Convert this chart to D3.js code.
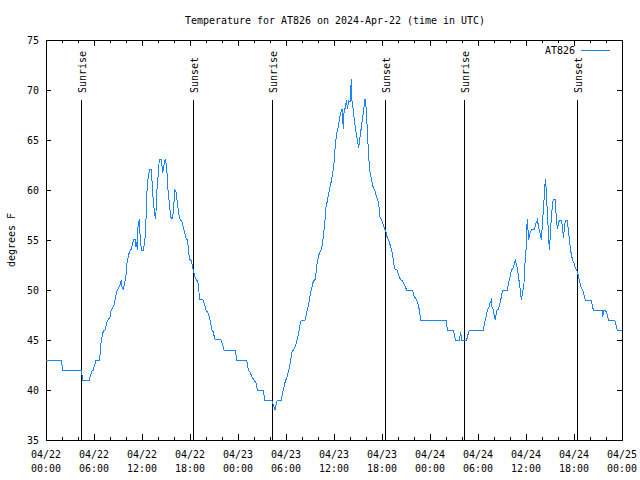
<!DOCTYPE html>
<html><head><meta charset="utf-8">
<script src="https://cdn.jsdelivr.net/npm/d3@7"></script>
<style>
body{margin:0;background:#fff}
svg{display:block}
text{font-family:"DejaVu Sans Mono",monospace;font-size:11px;fill:#000}
</style>
</head><body>
<svg id="c" width="640" height="480"></svg>
<script>
// ---- data ----
const title = "Temperature for AT826 on 2024-Apr-22 (time in UTC)";
const seriesName = "AT826";
const yLabel = "degrees F";
const startISO = "2024-04-22T00:00:00Z";
const endISO = "2024-04-25T00:00:00Z";
// hours since 2024-04-22 00:00 UTC
const hours = [
0,1.92,2.08,4.42,4.58,5.42,5.58,5.75,5.92,6.08,6.25,6.67,6.75,6.83,7.0,7.17,7.42,7.58,7.75,8.0,
8.08,8.33,8.5,8.67,8.83,9.0,9.25,9.42,9.5,9.67,9.83,10.0,10.08,10.25,10.42,10.67,10.83,11.0,11.17,11.25,
11.33,11.42,11.5,11.67,11.75,11.92,12.17,12.33,12.42,12.5,12.58,12.67,12.83,13.0,13.17,13.25,13.42,13.58,13.67,13.75,
13.83,14.0,14.17,14.42,14.58,14.75,14.92,15.08,15.25,15.42,15.58,15.75,15.92,16.0,16.08,16.25,16.42,16.58,16.75,17.0,
17.17,17.33,17.5,17.67,17.83,17.92,18.17,18.33,18.5,18.67,18.92,19.08,19.17,19.67,19.83,20.0,20.25,20.42,20.58,20.75,
20.92,21.08,21.92,22.08,22.25,23.67,23.83,
25.08,25.29,25.5,25.75,26.0,26.25,26.42,27.17,27.33,28.21,28.42,28.63,28.75,28.92,29.42,29.58,29.75,29.92,30.08,30.25,
30.42,30.58,30.75,31.0,31.17,31.33,31.5,31.67,31.83,32.42,32.58,32.75,32.92,33.08,33.25,33.42,33.67,33.75,33.83,34.0,
34.17,34.42,34.58,34.75,34.92,35.0,35.17,35.33,35.5,35.67,35.83,36.0,36.08,36.17,36.33,36.5,36.67,36.83,37.0,37.17,
37.25,37.42,37.58,37.67,37.83,38.0,38.17,38.25,38.42,38.58,38.75,38.92,39.08,39.25,39.42,39.58,39.75,39.88,40.0,40.17,
40.33,40.5,40.75,40.92,41.08,41.25,41.42,41.58,41.75,42.0,42.25,42.5,42.67,42.92,43.08,43.25,43.42,43.58,43.92,44.08,
44.33,44.58,44.83,45.08,45.83,46.0,46.33,46.5,46.67,46.83,
50.0,50.17,50.92,51.17,51.67,51.83,51.95,52.08,52.58,52.83,52.92,54.67,54.83,55.0,55.17,55.33,55.5,55.67,55.75,55.92,
56.08,56.17,56.33,56.58,56.75,56.92,57.08,57.67,57.83,58.0,58.17,58.33,58.5,58.67,58.83,59.0,59.17,59.33,59.42,59.58,
59.75,59.83,60.0,60.08,60.17,60.25,60.33,60.5,60.67,61.08,61.25,61.42,61.58,61.75,61.92,62.0,62.17,62.33,62.42,62.5,
62.67,62.83,62.92,63.0,63.17,63.33,63.42,63.67,63.75,63.92,64.08,64.17,64.42,64.58,64.67,64.83,64.92,65.17,65.33,65.5,
65.67,65.83,66.0,66.17,66.42,66.58,66.75,66.92,67.08,67.25,67.42,68.17,68.33,68.42,69.5,69.58,69.75,69.92,70.08,70.33,
71.08,71.25,71.42,72.0
];
const temps = [
43,43,42,42,41,41,41.5,41.9,42,42.5,43,43,43.5,44.5,45.3,45.9,46,46.7,47,47.3,
47.8,48.2,48.5,49.2,49.8,50.1,50.5,51,50.3,50.1,50.7,51.5,52.5,53.2,53.8,54.1,54.7,55.1,55,54.3,
54.8,54,56.3,57.1,55.6,54,54,54.7,55.6,57.1,59.1,60.6,61.6,62.1,62.1,60.9,58.7,57.7,57.1,57.8,
59.7,61.3,63.1,63.1,61.7,62.5,63.1,62.3,60,58.7,57.3,57.1,57.8,58.8,60,59.8,58.7,57.7,57.1,56.8,
56.3,55.7,55.2,55,54,53.1,52.9,52.3,51.7,51.2,50.9,50.5,49.1,49,48.5,48,47.7,47.3,46.7,46,
45.8,45.1,45,44.5,44,44,43,
43,42,41.8,41.3,41,40.7,40,40,39,39,38.5,38,38.5,39,39,39.7,40.3,40.9,41.2,41.7,
42.2,43,43.8,44.1,44.4,44.8,45.4,46.1,46.9,47,47.7,48.3,49,49.7,50.3,50.9,51.1,51.7,52.4,53.1,
53.7,54.1,54.7,56,57.3,58.3,58.9,59.6,60.3,60.9,61.6,62.7,63.6,64.6,65.6,66.2,67,67.7,68.1,66.1,
67.7,68.3,69,68.1,68.9,68.8,71.1,68.9,68,66.7,65.8,65,64.2,65.3,66.3,67.2,68.3,69.1,68.3,66,
63.3,61.8,60.8,60.2,60,59.5,59.1,58.7,57.3,56.9,56.3,55.8,55.2,54.8,54.3,53.8,53,52.1,52,51.5,
51,50.9,50.5,50,50,49.4,49,48.6,48,47,
47,46,46,45,45,45.8,45,45,45,45.8,46,46,46.7,47.3,48,48.2,48.7,49,48.3,48,
47.3,47,48,48.1,48.7,49.3,50,50,50.7,51.3,52,52.1,52.5,53,52.5,51.7,50.7,49.7,49,49.7,
50.7,52.2,54,56,57.1,56,55,55.7,56,56.1,56.7,57,56.3,55.7,55,56,58,60,61.1,60.3,
57.8,55.3,54,55,57.3,58.7,59.1,59.1,57.7,56.1,56.7,57,57,56.3,55.2,56.3,57,57,55.7,54.5,
53.5,53,52.7,52.2,51.8,51.3,50.7,50.2,50,49.5,49,49,48.3,48,48,47.3,48,48,47.7,47,
47,46.5,46,46
];
const sunTimes = ["2024-04-22T04:22:00Z","2024-04-22T18:22:00Z","2024-04-23T04:15:00Z",
                  "2024-04-23T18:22:00Z","2024-04-24T04:15:00Z","2024-04-24T18:22:00Z"];
const sunLabels = ["Sunrise","Sunset","Sunrise","Sunset","Sunrise","Sunset"];
const yTicks = [35,40,45,50,55,60,65,70,75];

// ---- chart ----
const svg = d3.select("#c");
const L=46, R=622, T=40, B=440;
const start = new Date(startISO), end = new Date(endISO);
const x = d3.scaleUtc().domain([start,end]).range([L,R]);
const y = d3.scaleLinear().domain([35,75]).range([B,T]);
const CW = 6;
function fit(sel){ sel.each(function(){ this.setAttribute("textLength", this.textContent.length*CW); this.setAttribute("lengthAdjust","spacingAndGlyphs"); }); }

const data = hours.map((h,i)=>({t:new Date(start.getTime()+h*3600e3), v:temps[i]}));

// ticks (inward, mirrored)
function styleAxis(g){ g.select(".domain").remove(); g.selectAll(".tick line").attr("stroke","#000"); g.selectAll(".tick text").remove(); }
const minor = d3.utcHour.every(2), major = d3.utcHour.every(6);
svg.append("g").attr("transform",`translate(0,${B})`).call(d3.axisBottom(x).ticks(minor).tickSize(-3)).call(styleAxis);
svg.append("g").attr("transform",`translate(0,${B})`).call(d3.axisBottom(x).ticks(major).tickSize(-6)).call(styleAxis);
svg.append("g").attr("transform",`translate(0,${T})`).call(d3.axisTop(x).ticks(minor).tickSize(-3)).call(styleAxis);
svg.append("g").attr("transform",`translate(0,${T})`).call(d3.axisTop(x).ticks(major).tickSize(-6)).call(styleAxis);
svg.append("g").attr("transform",`translate(${L},0)`).call(d3.axisLeft(y).tickValues(yTicks).tickSize(-5)).call(styleAxis);
svg.append("g").attr("transform",`translate(${R},0)`).call(d3.axisRight(y).tickValues(yTicks).tickSize(-5)).call(styleAxis);

// tick labels
const fmtD = d3.utcFormat("%m/%d"), fmtT = d3.utcFormat("%H:%M");
const xt = x.ticks(major);
svg.append("g").selectAll("text.d").data(xt).join("text").attr("x",d=>x(d)).attr("y",458).attr("text-anchor","middle").text(fmtD).call(fit);
svg.append("g").selectAll("text.t").data(xt).join("text").attr("x",d=>x(d)).attr("y",472).attr("text-anchor","middle").text(fmtT).call(fit);
svg.append("g").selectAll("text").data(yTicks).join("text").attr("x",39).attr("y",d=>y(d)+4).attr("text-anchor","end").text(d=>d).call(fit);

// frame
svg.append("rect").attr("x",L+0.5).attr("y",T+0.5).attr("width",R-L).attr("height",B-T)
  .attr("fill","none").attr("stroke","#000").attr("stroke-width",1).attr("shape-rendering","crispEdges");

// sunrise / sunset
const sg = svg.append("g");
sunTimes.forEach((s,i)=>{
  const xx = Math.round(x(new Date(s)))+0.5;
  sg.append("line").attr("x1",xx).attr("x2",xx).attr("y1",y(69)).attr("y2",y(35)).attr("stroke","#000").attr("stroke-width",1).attr("shape-rendering","crispEdges");
  sg.append("text").attr("transform",`translate(${xx+4.5},93) rotate(-90)`).attr("text-anchor","start").text(sunLabels[i]).call(fit);
});

// data line
svg.append("path").datum(data).attr("fill","none").attr("stroke","#1a84ff").attr("stroke-width",1)
  .attr("shape-rendering","crispEdges")
  .attr("d", d3.line().x(d=>x(d.t)).y(d=>y(d.v)));

// legend
svg.append("text").attr("x",575).attr("y",54).attr("text-anchor","end").text(seriesName).call(fit);
svg.append("line").attr("x1",581).attr("x2",610).attr("y1",50.5).attr("y2",50.5).attr("stroke","#1a84ff").attr("stroke-width",1).attr("shape-rendering","crispEdges");

// title & y label
svg.append("text").attr("x",335).attr("y",24).attr("text-anchor","middle").text(title).call(fit);
svg.append("text").attr("transform","translate(15,240) rotate(-90)").attr("text-anchor","middle").text(yLabel).call(fit);
</script>
</body></html>
